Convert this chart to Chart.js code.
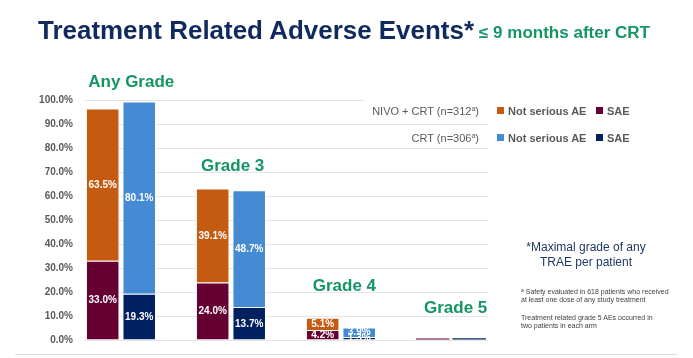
<!DOCTYPE html>
<html>
<head>
<meta charset="utf-8">
<script src="https://cdn.jsdelivr.net/npm/chart.js@4.4.1/dist/chart.umd.min.js"></script>
<style>
html,body{margin:0;padding:0;background:#fff;width:693px;height:358px;overflow:hidden;}
#wrap{position:relative;width:693px;height:358px;font-family:'Liberation Sans',Arial,sans-serif;}
canvas{position:absolute;left:0;top:0;}
.abs{position:absolute;white-space:nowrap;}
#title{left:38px;top:18px;font-size:25px;line-height:25px;font-weight:bold;color:#102A5E;transform-origin:left top;}
#subtitle{left:479px;top:24.8px;font-size:16px;line-height:16px;font-weight:bold;color:#149664;transform-origin:left top;}
.rowlab{font-size:11px;line-height:14px;color:#595959;text-align:right;}
.rowlab sup{font-size:7px;vertical-align:4px;line-height:0;}
.sq{position:absolute;width:7px;height:7px;}
.itxt{position:absolute;font-size:11px;line-height:14px;font-weight:bold;color:#595959;}
#note1{left:486px;top:240px;width:200px;text-align:center;font-size:12px;line-height:15px;color:#1F3864;}
.small{left:521px;font-size:7px;line-height:8.7px;color:#404040;}
.small sup{font-size:5px;vertical-align:2px;line-height:0;}
#baseline{left:15px;top:354px;width:662px;height:1px;background:#DADADA;}
#cover{left:365px;top:95px;width:325px;height:20px;background:#fff;}
</style>
</head>
<body>
<div id="wrap">
  <canvas id="c" width="693" height="358"></canvas>
  <div id="title" class="abs">Treatment Related Adverse Events*</div>
  <div id="subtitle" class="abs">≤ 9 months after CRT</div>
  <div id="cover" class="abs"></div>
  <div id="legend"></div>
  <div id="note1" class="abs">*Maximal grade of any<br>TRAE per patient</div>
  <div class="abs small" style="top:287.5px"><sup>a</sup> Safety evaluated in 618 patients who received<br>at least one dose of any study treatment</div>
  <div class="abs small" style="top:313.5px">Treatment related grade 5 AEs occurred in<br>two patients in each arm</div>
  <div id="baseline" class="abs"></div>
</div>
<script>
// ---- data ----
const categories = ['Any Grade', 'Grade 3', 'Grade 4', 'Grade 5'];
const armLabels = ['NIVO + CRT (n=312', 'CRT (n=306'];
const nivoSAE        = [33.0, 24.0, 4.2, 0.6];
const nivoNotSerious = [63.5, 39.1, 5.1, 0.0];
const crtSAE         = [19.3, 13.7, 1.3, 0.7];
const crtNotSerious  = [80.1, 48.7, 3.9, 0.0];
const yTickLabels = ['0.0%','10.0%','20.0%','30.0%','40.0%','50.0%','60.0%','70.0%','80.0%','90.0%','100.0%'];

// ---- layout / style ----
const colors = {nivoSAE:'#660033', nivoNS:'#C55A11', crtSAE:'#002060', crtNS:'#458BD4'};
const groupLabelPos = [{x:88.3,y:86.7},{x:201,y:171},{x:312.7,y:291},{x:424,y:313.3}];
const legendRowY = [110.5, 137.5];
const legendItemX = [497, 596];
const xRange = {min:-0.327, max:3.337};

const toXY = arr => arr.map((v, i) => ({x: i, y: v}));

const datasets = [
  {label:'SAE', stack:'nivo', data:toXY(nivoSAE), backgroundColor:colors.nivoSAE},
  {label:'Not serious AE', stack:'nivo', data:toXY(nivoNotSerious), backgroundColor:colors.nivoNS},
  {label:'SAE', stack:'crt', data:toXY(crtSAE), backgroundColor:colors.crtSAE},
  {label:'Not serious AE', stack:'crt', data:toXY(crtNotSerious), backgroundColor:colors.crtNS}
];
datasets.forEach(d => {
  d.borderColor = 'rgba(255,255,255,0.55)';
  d.borderWidth = c => (c.raw && c.raw.y < 1) ? 0 : 1;
});

const valueLabels = {
  id:'valueLabels',
  afterDatasetsDraw(chart){
    const {ctx, chartArea} = chart;
    ctx.save();
    ctx.beginPath();
    ctx.rect(chartArea.left, chartArea.top, chartArea.right - chartArea.left, chartArea.bottom - chartArea.top);
    ctx.clip();
    ctx.font = 'bold 10px "Liberation Sans", Arial, sans-serif';
    ctx.fillStyle = '#fff';
    ctx.textAlign = 'center';
    ctx.textBaseline = 'middle';
    chart.data.datasets.forEach((ds, di) => {
      const meta = chart.getDatasetMeta(di);
      meta.data.forEach((el, i) => {
        const v = ds.data[i].y;
        if (v < 1) return;
        ctx.fillText(v.toFixed(1) + '%', el.x, (el.y + el.base) / 2 + 0.5);
      });
    });
    ctx.restore();
  }
};

const groupLabels = {
  id:'groupLabels',
  afterDraw(chart){
    const ctx = chart.ctx;
    ctx.save();
    ctx.font = 'bold 17px "Liberation Sans", Arial, sans-serif';
    ctx.fillStyle = '#149664';
    ctx.textAlign = 'left';
    ctx.textBaseline = 'alphabetic';
    categories.forEach((c, i) => ctx.fillText(c, groupLabelPos[i].x, groupLabelPos[i].y));
    ctx.restore();
  }
};

const chart = new Chart(document.getElementById('c'), {
  type:'bar',
  data:{datasets},
  plugins:[valueLabels, groupLabels],
  options:{
    responsive:false,
    animation:false,
    layout:{padding:{left:0, right:205, top:100, bottom:12.5}},
    plugins:{legend:{display:false}, tooltip:{enabled:false}},
    datasets:{bar:{categoryPercentage:0.664, barPercentage:0.918}},
    scales:{
      x:{type:'linear', min:xRange.min, max:xRange.max, display:false,
         offset:false, bounds:'data', grid:{offset:false},
         afterDataLimits(s){ s.min = xRange.min; s.max = xRange.max; },
         afterBuildTicks(s){ s.ticks = categories.map((c, i) => ({value:i})); }},
      y:{stacked:true, min:0, max:100,
         afterFit(s){ s.width = 85; },
         ticks:{stepSize:10, padding:12, color:'#595959',
                font:{family:'"Liberation Sans", Arial, sans-serif', weight:'bold', size:10},
                callback:(v, i) => yTickLabels[i]},
         grid:{color:'#E6E6E6', drawTicks:false, lineWidth:1},
         border:{display:false}}
    }
  }
});

// ---- HTML legend built from datasets ----
const legend = document.getElementById('legend');
const rows = [[datasets[1], datasets[0]], [datasets[3], datasets[2]]];
rows.forEach((items, r) => {
  const top = legendRowY[r] - 7;
  const lab = document.createElement('div');
  lab.className = 'abs rowlab';
  lab.style.right = (693 - 479) + 'px';
  lab.style.top = top + 'px';
  lab.innerHTML = armLabels[r] + '<sup>a</sup>)';
  legend.appendChild(lab);
  items.forEach((ds, k) => {
    const sq = document.createElement('div');
    sq.className = 'sq';
    sq.style.left = legendItemX[k] + 'px';
    sq.style.top = (legendRowY[r] - 3.5) + 'px';
    sq.style.background = ds.backgroundColor;
    legend.appendChild(sq);
    const t = document.createElement('div');
    t.className = 'itxt';
    t.style.left = (legendItemX[k] + 11) + 'px';
    t.style.top = top + 'px';
    t.textContent = ds.label;
    legend.appendChild(t);
  });
});

function fitWidth(id, w){
  const el = document.getElementById(id);
  const cur = el.getBoundingClientRect().width;
  if (cur > 0) el.style.transform = 'scaleX(' + (w / cur) + ')';
}
fitWidth('title', 436);
fitWidth('subtitle', 171);
</script>
</body>
</html>
